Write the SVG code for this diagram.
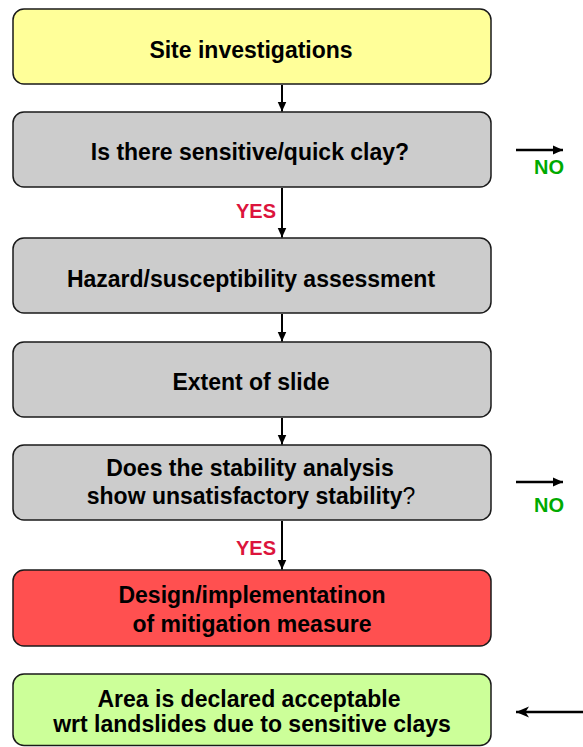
<svg xmlns="http://www.w3.org/2000/svg" width="583" height="747" viewBox="0 0 583 747">
<defs>
<style>
.box{stroke:#1a1a1a;stroke-width:1.5}
.t{font-family:"Liberation Sans",Arial,sans-serif;font-weight:bold;font-size:23px;fill:#000;text-anchor:middle}
.yes{font-family:"Liberation Sans",Arial,sans-serif;font-weight:bold;font-size:20px;fill:#dc143c}
.no{font-family:"Liberation Sans",Arial,sans-serif;font-weight:bold;font-size:20px;fill:#00aa00}
.c{stroke:#000;stroke-width:2;fill:none}
.h{stroke:#000;stroke-width:2.5;fill:none}
</style>
<marker id="ah" markerUnits="userSpaceOnUse" markerWidth="11" markerHeight="11" refX="10" refY="5.5" orient="auto">
<path d="M0,1 L10,5.5 L0,10 z" fill="#000"/>
</marker>
<marker id="ah2" markerUnits="userSpaceOnUse" markerWidth="14" markerHeight="14" refX="13" refY="7" orient="auto">
<path d="M0,1.5 L13,7 L0,12.5 L3.5,7 z" fill="#000"/>
</marker>
</defs>
<rect width="583" height="747" fill="#fff"/>
<g id="n1">
<rect class="box" x="13" y="9" width="478" height="75" rx="11" fill="#ffff99"/>
<text class="t" x="251" y="58">Site investigations</text>
</g>
<g id="n2">
<rect class="box" x="13" y="112" width="478" height="75" rx="11" fill="#cccccc"/>
<text class="t" x="250" y="160">Is there sensitive/quick clay?</text>
</g>
<g id="n3">
<rect class="box" x="13" y="238" width="478" height="75" rx="11" fill="#cccccc"/>
<text class="t" x="251" y="287">Hazard/susceptibility assessment</text>
</g>
<g id="n4">
<rect class="box" x="13" y="342" width="478" height="75" rx="11" fill="#cccccc"/>
<text class="t" x="251" y="390">Extent of slide</text>
</g>
<g id="n5">
<rect class="box" x="13" y="445" width="478" height="75" rx="11" fill="#cccccc"/>
<text class="t" x="250" y="476">Does the stability analysis</text>
<text class="t" x="251" y="504">show unsatisfactory stability<tspan font-weight="normal">?</tspan></text>
</g>
<g id="n6">
<rect class="box" x="13" y="570" width="478" height="76" rx="11" fill="#ff5050"/>
<text class="t" x="252" y="603">Design/implementatinon</text>
<text class="t" x="252" y="632">of mitigation measure</text>
</g>
<g id="n7">
<rect class="box" x="13" y="674" width="478" height="71.5" rx="11" fill="#ccff99"/>
<text class="t" x="249" y="707">Area is declared acceptable</text>
<text class="t" x="252" y="732">wrt landslides due to sensitive clays</text>
</g>
<g id="connectors">
<line class="c" x1="282" y1="85" x2="282" y2="111.5" marker-end="url(#ah)"/>
<line class="c" x1="282" y1="188" x2="282" y2="237.5" marker-end="url(#ah)"/>
<line class="c" x1="282" y1="314" x2="282" y2="341.5" marker-end="url(#ah)"/>
<line class="c" x1="282" y1="418" x2="282" y2="444.5" marker-end="url(#ah)"/>
<line class="c" x1="282" y1="521" x2="282" y2="569.5" marker-end="url(#ah)"/>
<line class="h" x1="516" y1="150" x2="563" y2="150" marker-end="url(#ah)"/>
<line class="h" x1="516" y1="482" x2="563" y2="482" marker-end="url(#ah)"/>
<line class="h" x1="583" y1="712" x2="516" y2="712" marker-end="url(#ah2)"/>
<text class="yes" x="236" y="218">YES</text>
<text class="yes" x="236" y="555">YES</text>
<text class="no" x="534" y="174">NO</text>
<text class="no" x="534" y="512">NO</text>
</g>
</svg>
